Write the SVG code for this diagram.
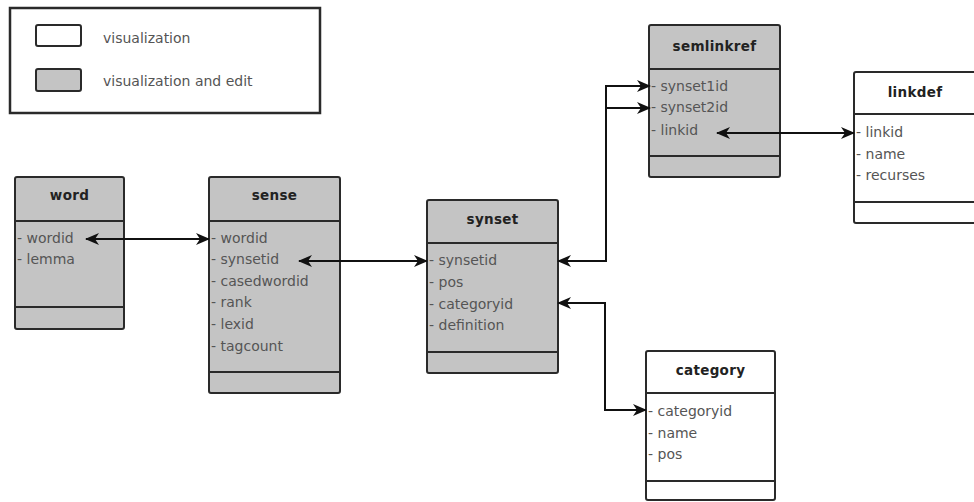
<svg xmlns="http://www.w3.org/2000/svg" width="974" height="502" viewBox="0 0 974 502">
<style>
.box{stroke:#2a2a2a;stroke-width:2}
.edit{fill:#c4c4c4}
.view{fill:#ffffff}
.div{stroke:#2a2a2a;stroke-width:2}
.title{font-family:"DejaVu Sans",sans-serif;font-weight:bold;font-size:13.5px;fill:#222;text-anchor:middle;letter-spacing:0.3px}
.row{font-family:"DejaVu Sans",sans-serif;font-size:14px;fill:#555}
.leg{font-family:"DejaVu Sans",sans-serif;font-size:14px;fill:#555}
.conn{fill:none;stroke:#111;stroke-width:2}
</style>
<defs>
<marker id="ah" viewBox="0 0 14 12" refX="13" refY="6" markerWidth="14" markerHeight="12" markerUnits="userSpaceOnUse" orient="auto-start-reverse">
<path d="M0,0 L14,6 L0,12 L4,6 z" fill="#111"/>
</marker>
</defs>
<rect width="974" height="502" fill="#ffffff"/>
<g id="legend">
<rect x="10" y="8" width="310" height="105" fill="#ffffff" stroke="#2a2a2a" stroke-width="2.5"/>
<rect x="36" y="25" width="45" height="21" rx="2" class="box view"/>
<text x="103" y="43" class="leg">visualization</text>
<rect x="36" y="69" width="45" height="22" rx="2" class="box edit"/>
<text x="103" y="86" class="leg">visualization and edit</text>
</g>
<g id="word">
<rect x="15" y="177" width="109" height="152" rx="2" class="box edit"/>
<line x1="15" y1="221" x2="124" y2="221" class="div"/>
<line x1="15" y1="307" x2="124" y2="307" class="div"/>
<text x="69.5" y="200" class="title">word</text>
<text x="17" y="243" class="row">- wordid</text>
<text x="17" y="264" class="row">- lemma</text>
</g>
<g id="sense">
<rect x="209" y="177" width="131" height="216" rx="2" class="box edit"/>
<line x1="209" y1="221" x2="340" y2="221" class="div"/>
<line x1="209" y1="372" x2="340" y2="372" class="div"/>
<text x="274.5" y="200" class="title">sense</text>
<text x="211" y="243" class="row">- wordid</text>
<text x="211" y="264" class="row">- synsetid</text>
<text x="211" y="286" class="row">- casedwordid</text>
<text x="211" y="307" class="row">- rank</text>
<text x="211" y="329" class="row">- lexid</text>
<text x="211" y="351" class="row">- tagcount</text>
</g>
<g id="synset">
<rect x="427" y="200" width="131" height="173" rx="2" class="box edit"/>
<line x1="427" y1="243" x2="558" y2="243" class="div"/>
<line x1="427" y1="352" x2="558" y2="352" class="div"/>
<text x="492.5" y="224" class="title">synset</text>
<text x="429" y="265" class="row">- synsetid</text>
<text x="429" y="287" class="row">- pos</text>
<text x="429" y="309" class="row">- categoryid</text>
<text x="429" y="330" class="row">- definition</text>
</g>
<g id="semlinkref">
<rect x="649" y="25" width="131" height="152" rx="2" class="box edit"/>
<line x1="649" y1="69" x2="780" y2="69" class="div"/>
<line x1="649" y1="156" x2="780" y2="156" class="div"/>
<text x="714.5" y="51" class="title">semlinkref</text>
<text x="651" y="91" class="row">- synset1id</text>
<text x="651" y="112" class="row">- synset2id</text>
<text x="651" y="135" class="row">- linkid</text>
</g>
<g id="linkdef">
<rect x="854" y="72" width="130" height="151" rx="2" class="box view"/>
<line x1="854" y1="114" x2="984" y2="114" class="div"/>
<line x1="854" y1="202" x2="984" y2="202" class="div"/>
<text x="915" y="97" class="title">linkdef</text>
<text x="856" y="137" class="row">- linkid</text>
<text x="856" y="159" class="row">- name</text>
<text x="856" y="180" class="row">- recurses</text>
</g>
<g id="category">
<rect x="646" y="351" width="129" height="149" rx="2" class="box view"/>
<line x1="646" y1="393" x2="775" y2="393" class="div"/>
<line x1="646" y1="481" x2="775" y2="481" class="div"/>
<text x="710.5" y="375" class="title">category</text>
<text x="648" y="416" class="row">- categoryid</text>
<text x="648" y="438" class="row">- name</text>
<text x="648" y="459" class="row">- pos</text>
</g>
<g id="connectors">
<path d="M86,239 H209" class="conn" marker-start="url(#ah)" marker-end="url(#ah)"/>
<path d="M299,261 H427" class="conn" marker-start="url(#ah)" marker-end="url(#ah)"/>
<path d="M558,261 H606 V86 H650" class="conn" marker-start="url(#ah)" marker-end="url(#ah)"/>
<path d="M606,108 H650" class="conn" marker-end="url(#ah)"/>
<path d="M717,133 H854" class="conn" marker-start="url(#ah)" marker-end="url(#ah)"/>
<path d="M558,303 H605 V410 H646" class="conn" marker-start="url(#ah)" marker-end="url(#ah)"/>
</g>
</svg>
